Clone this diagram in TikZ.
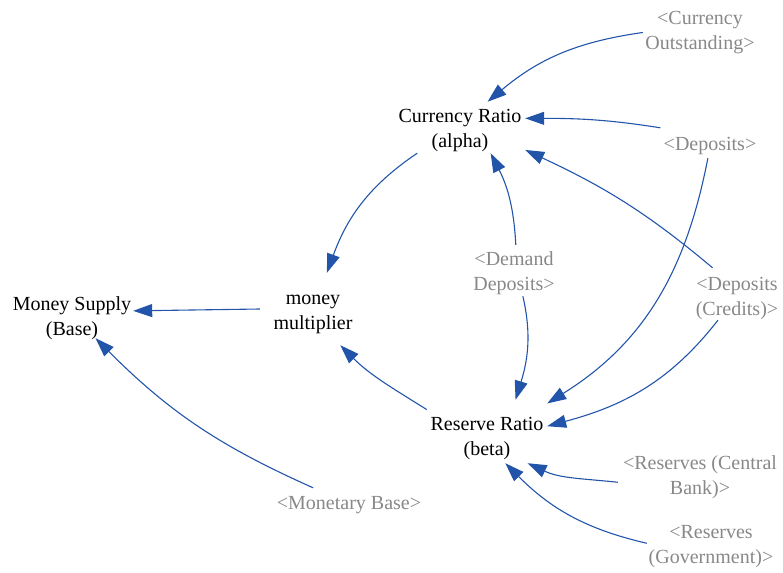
\documentclass[tikz,border=0pt]{standalone}
\usepackage{fontspec}
\setmainfont{Liberation Serif}
\usetikzlibrary{arrows.meta}
\definecolor{linkblue}{RGB}{34,85,170}
\definecolor{shadowgray}{RGB}{136,136,136}
% #1: distance (pt) from node centre down to the first baseline; #2: lines
\newcommand\vtxt[2]{\raisebox{-#1pt}[0pt][0pt]{\begin{tabular}[t]{@{}c@{}}#2\end{tabular}}}
\begin{document}
\begin{tikzpicture}[x=1pt,y=1pt,
  var/.style={inner sep=0pt, font=\fontsize{20}{25}\selectfont, text=black},
  shadowvar/.style={var, text=shadowgray},
  link/.style={draw=linkblue, line width=1.1pt, -{Triangle[length=19pt,width=13pt]}}]
\useasboundingbox (0,0) rectangle (783,-572);
\node[var, minimum width=130pt, minimum height=51pt] (cr) at (460,-127.5) {\vtxt{-5}{Currency Ratio\\(alpha)}};
\node[var, minimum width=106pt, minimum height=72pt] (mm) at (313,-309) {\vtxt{-4.5}{money\\multiplier}};
\node[var, minimum width=122pt, minimum height=50pt] (ms) at (72,-313) {\vtxt{-3}{Money Supply\\(Base)}};
\node[var, minimum width=120pt, minimum height=63pt] (rr) at (487,-431.5) {\vtxt{-1}{Reserve Ratio\\(beta)}};
\node[shadowvar, minimum width=114pt, minimum height=50pt] (co) at (700,-32.5) {\vtxt{-7.5}{<Currency\\Outstanding>}};
\node[shadowvar, minimum width=100pt, minimum height=30pt] (dep) at (710,-143) {\vtxt{7.5}{<Deposits>}};
\node[shadowvar, minimum width=88pt, minimum height=51pt] (dd) at (514,-270.5) {\vtxt{-5.5}{<Demand\\Deposits>}};
\node[shadowvar, minimum width=88pt, minimum height=52pt] (dc) at (737,-294) {\vtxt{-4}{<Deposits\\(Credits)>}};
\node[shadowvar, minimum width=150pt, minimum height=30pt] (mb) at (349,-503) {\vtxt{6.5}{<Monetary Base>}};
\node[shadowvar, minimum width=164pt, minimum height=50pt] (rc) at (700,-476.5) {\vtxt{-7.5}{<Reserves (Central\\Bank)>}};
\node[shadowvar, minimum width=128pt, minimum height=50pt] (rg) at (711,-545.5) {\vtxt{-7.5}{<Reserves\\(Government)>}};
\draw[link] (co.180) to[out=188,in=40] (cr.43);
\draw[link] (dep.163) to[out=171,in=0] (cr.8);
\draw[link] (dc.133) to[out=140,in=-25] (cr.-19);
\draw[link] (dd.86) to[out=93,in=-63] (cr.-40);
\draw[link] (dep.262) to[out=259,in=32] (rr.25);
\draw[link] (dc.234) to[out=232,in=15] (rr.5);
\draw[link] (dd.-71) to[out=283,in=73] (rr.48);
\draw[link] (rc.184.5) to[out=174,in=-25] (rr.-38);
\draw[link] (rg.178) to[out=167,in=-45] (rr.-60);
\draw[link] (rr.160) to[out=148,in=-45] (mm.-53);
\draw[link] (cr.211) to[out=214,in=70] (mm.69);
\draw[link] (mm.180) -- (ms.2);
\draw[link] (mb.157) to[out=156,in=-45] (ms.-47);
\end{tikzpicture}
\end{document}
